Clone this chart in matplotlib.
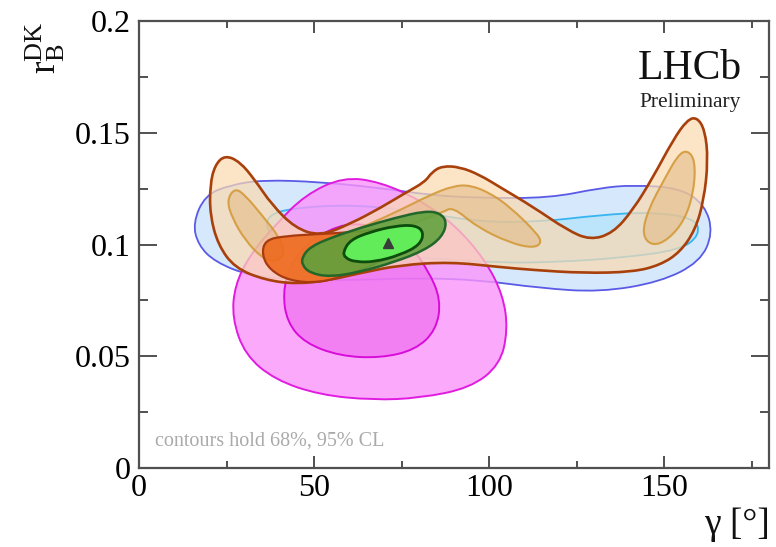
import matplotlib
matplotlib.use('Agg')
import matplotlib.pyplot as plt
from matplotlib.path import Path
from matplotlib.patches import PathPatch
from matplotlib.ticker import MultipleLocator
import numpy as np

plt.rcParams['font.family'] = ['Liberation Serif', 'DejaVu Serif']
plt.rcParams['mathtext.fontset'] = 'custom'
plt.rcParams['mathtext.rm'] = 'Liberation Serif'
plt.rcParams['mathtext.it'] = 'Liberation Serif:italic'

# ---------------- data (gamma [deg], r_B^DK) ----------------
blue95_g = [15.4, 18.9, 26.0, 35.4, 51.7, 68.9, 83.1, 97.4, 117.4, 131.7, 141.1, 154.6, 161.7,
            164.0, 160.3, 148.9, 131.7, 114.6, 97.4, 80.3, 63.1, 46.0, 31.7, 21.7, 16.9]
blue95_r = [0.1096, 0.1221, 0.1266, 0.1289, 0.1280, 0.1253, 0.1221, 0.1208, 0.1208, 0.1253, 0.1266,
            0.1253, 0.1177, 0.1051, 0.0922, 0.0832, 0.0787, 0.0805, 0.0841, 0.0850, 0.0841, 0.0841,
            0.0859, 0.0922, 0.0998]

blue68_g = [36.0, 46.0, 63.1, 80.3, 97.4, 114.6, 131.7, 146.0, 158.9, 160.3, 154.6, 137.4, 120.3,
            103.1, 83.1, 63.1, 46.0, 37.4]
blue68_r = [0.1132, 0.1168, 0.1177, 0.1145, 0.1101, 0.1101, 0.1132, 0.1145, 0.1119, 0.1043, 0.0975,
            0.0940, 0.0922, 0.0917, 0.0940, 0.0953, 0.0975, 0.1029]

pink95_g = [58.3, 68.9, 80.3, 90.3, 98.9, 104.0, 105.4, 103.1, 94.6, 80.3, 66.9, 51.7, 38.9, 30.3,
            26.6, 27.4, 31.7, 38.9, 47.4]
pink95_r = [0.1302, 0.1280, 0.1199, 0.1087, 0.0931, 0.0774, 0.0617, 0.0461, 0.0358, 0.0313, 0.0304,
            0.0327, 0.0394, 0.0506, 0.0671, 0.0819, 0.0953, 0.1087, 0.1221]

pink68_g = [59.4, 68.9, 77.4, 82.6, 86.3, 84.9, 78.9, 68.9, 57.4, 47.4, 42.3, 41.1, 43.1, 48.9]
pink68_r = [0.1101, 0.1074, 0.0998, 0.0886, 0.0752, 0.0617, 0.0528, 0.0492, 0.0501, 0.0559, 0.0653,
            0.0783, 0.0908, 0.1020]

tan95_g = [24.6, 28.9, 33.1, 38.0, 44.6, 51.7, 60.3, 68.9, 76.0, 81.7, 83.7, 86.6, 91.7, 97.4, 103.1,
           112.6, 122.3, 128.9, 135.4, 141.1, 146.9, 152.6, 156.6, 159.4, 161.7, 162.6, 161.4, 158.9,
           154.6, 148.9, 141.1, 126.9, 112.6, 103.1, 88.9, 74.6, 63.1, 54.6, 45.1, 36.0, 27.4, 22.6,
           20.3, 20.3, 21.7]
tan95_r = [0.1400, 0.1369, 0.1289, 0.1177, 0.1074, 0.1038, 0.1092, 0.1163, 0.1230, 0.1280, 0.1324,
           0.1351, 0.1347, 0.1311, 0.1257, 0.1168, 0.1065, 0.1020, 0.1051, 0.1154, 0.1302, 0.1468,
           0.1557, 0.1570, 0.1512, 0.1378, 0.1199, 0.1065, 0.0966, 0.0908, 0.0877, 0.0872, 0.0886,
           0.0899, 0.0922, 0.0908, 0.0872, 0.0841, 0.0823, 0.0841, 0.0895, 0.0998, 0.1132, 0.1266,
           0.1356]

tan68a_g = [27.4, 30.3, 35.1, 40.3, 41.7, 38.9, 35.1, 30.3, 26.6, 25.1]
tan68a_r = [0.1253, 0.1221, 0.1132, 0.1029, 0.0953, 0.0922, 0.0940, 0.1020, 0.1119, 0.1199]

tan68b_g = [54.6, 66.0, 74.6, 83.1, 89.7, 94.6, 100.3, 106.0, 113.7, 115.1, 112.6, 106.0, 96.6, 89.7,
            86.9, 78.3, 68.9, 60.3, 54.6]
tan68b_r = [0.1020, 0.1092, 0.1154, 0.1221, 0.1262, 0.1266, 0.1230, 0.1168, 0.1051, 0.1007, 0.0984,
            0.1007, 0.1078, 0.1168, 0.1145, 0.1096, 0.1020, 0.0966, 0.0948]

tan68c_g = [156.6, 158.9, 158.6, 156.0, 151.1, 146.6, 143.7, 145.4, 150.3, 154.0]
tan68c_r = [0.1423, 0.1378, 0.1244, 0.1110, 0.1020, 0.0993, 0.1043, 0.1154, 0.1298, 0.1400]

orange_g = [36.0, 41.7, 51.7, 61.7, 71.7, 77.4, 76.0, 68.9, 60.3, 51.7, 43.1, 37.4, 35.1]
orange_r = [0.1020, 0.1038, 0.1047, 0.1056, 0.1074, 0.1056, 0.0984, 0.0922, 0.0868, 0.0828, 0.0837,
            0.0886, 0.0953]

green95_g = [46.6, 48.9, 54.6, 63.1, 73.1, 81.7, 86.0, 88.0, 86.6, 81.7, 73.1, 63.1, 54.6, 48.9, 46.6]
green95_r = [0.0944, 0.0989, 0.1029, 0.1074, 0.1119, 0.1150, 0.1141, 0.1101, 0.1034, 0.0975, 0.0922,
             0.0877, 0.0855, 0.0872, 0.0908]

green68_g = [58.3, 60.3, 66.0, 73.1, 78.9, 81.4, 80.3, 74.6, 67.4, 61.7, 58.9]
green68_r = [0.0966, 0.1020, 0.1056, 0.1083, 0.1087, 0.1056, 0.0998, 0.0953, 0.0922, 0.0922, 0.0940]

best_g = [71.1]
best_r = [0.1007]

x_ticks = [0, 50, 100, 150]
x_ticklabels = ['0', '50', '100', '150']
y_ticks = [0, 0.05, 0.1, 0.15, 0.2]
y_ticklabels = ['0', '0.05', '0.1', '0.15', '0.2']


def contour(ax, g, r, fc, ec, lw, alpha, z, ealpha=1.0):
    pts = np.column_stack([g, r])
    mids = (pts + np.roll(pts, -1, axis=0)) / 2.0
    verts = [mids[-1]]
    codes = [Path.MOVETO]
    for p, m in zip(pts, mids):
        verts += [p, m]
        codes += [Path.CURVE3, Path.CURVE3]
    path = Path(np.array(verts), codes)
    ax.add_patch(PathPatch(path, facecolor=fc, edgecolor='none', alpha=alpha, zorder=z))
    ax.add_patch(PathPatch(path, facecolor='none', edgecolor=ec, lw=lw, zorder=z + 0.5,
                           joinstyle='round', alpha=ealpha))


fig = plt.figure(figsize=(7.76, 5.47), dpi=100)
ax = fig.add_axes([139 / 776, 1 - 468 / 547, (769 - 139) / 776, (468 - 21) / 547])

contour(ax, blue95_g, blue95_r, '#d6e8fc', '#5a5ae6', 1.3, 1.0, 1)
contour(ax, blue68_g, blue68_r, '#bce4fa', '#38b4f0', 1.3, 1.0, 2)
contour(ax, pink95_g, pink95_r, '#fa94fa', '#e01ce0', 1.4, 0.8, 3)
contour(ax, pink68_g, pink68_r, '#ee66ee', '#d80cd8', 1.4, 0.6, 4)
contour(ax, tan95_g, tan95_r, '#fbdab2', '#a8400c', 1.9, 0.72, 5)
contour(ax, tan68a_g, tan68a_r, '#e2b67c', '#d49a3a', 1.5, 0.5, 6, 0.9)
contour(ax, tan68b_g, tan68b_r, '#e2b67c', '#d49a3a', 1.5, 0.5, 6, 0.9)
contour(ax, tan68c_g, tan68c_r, '#e2b67c', '#d49a3a', 1.5, 0.5, 6, 0.9)
contour(ax, orange_g, orange_r, '#ee6a1c', '#a83a10', 1.6, 0.9, 8)
contour(ax, green95_g, green95_r, '#5ea23c', '#23662a', 1.8, 0.88, 10)
contour(ax, green68_g, green68_r, '#62ec5a', '#0c4c0c', 2.0, 1.0, 12)
ax.plot(best_g, best_r, marker='^', color='#3a3a3a', ms=7, ls='none', zorder=14)

ax.set_xlim(0, 180)
ax.set_ylim(0, 0.2)
ax.set_xticks(x_ticks)
ax.set_xticklabels(x_ticklabels)
ax.set_yticks(y_ticks)
ax.set_yticklabels(y_ticklabels)
ax.xaxis.set_minor_locator(MultipleLocator(25))
ax.yaxis.set_minor_locator(MultipleLocator(0.025))

for s in ax.spines.values():
    s.set_linewidth(1.6)
    s.set_color('#505050')
ax.tick_params(axis='both', which='both', direction='in', top=True, right=True,
               color='#505050', width=1.4)
ax.tick_params(axis='x', which='major', length=8.5, labelsize=23, pad=4)
ax.tick_params(axis='x', which='minor', length=5)
ax.tick_params(axis='y', which='major', length=13, labelsize=23, pad=6)
ax.tick_params(axis='y', which='minor', length=6.5)

ax.text(742 / 776, 1 - 69 / 547, 'LHCb', transform=fig.transFigure, ha='right', va='center',
        fontsize=30, color='#111111')
ax.text(741 / 776, 1 - 102 / 547, 'Preliminary', transform=fig.transFigure, ha='right',
        va='center', fontsize=15.5, color='#222222')
ax.text(155 / 776, 1 - 441 / 547, 'contours hold 68%, 95% CL', transform=fig.transFigure,
        ha='left', va='center', fontsize=14.5, color='#aaaaaa')

fig.text(770 / 776, 1 - 525 / 547, 'γ [°]', ha='right', va='center', fontsize=27,
         color='#111111')
fig.text(45 / 776, 1 - 48 / 547, r'$\mathrm{r}_{\mathrm{B}}^{\mathrm{DK}}$', rotation=90,
         ha='center', va='center', fontsize=27, color='#111111')

fig.savefig('out.png', dpi=100)
